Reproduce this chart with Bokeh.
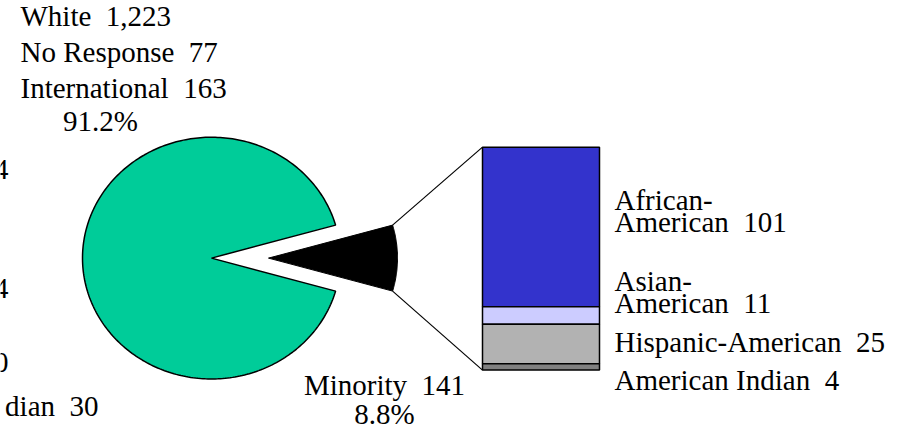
import numpy as np
from bokeh.plotting import figure
from bokeh.models import Range1d
from bokeh.embed import file_html
from bokeh.resources import INLINE
from bokeh.core.properties import value

# ---- data ----
NB = "\u00a0 "  # wide gap between name and number, as in the reference
pie_labels = ["White" + NB + "1,223", "No Response" + NB + "77", "International" + NB + "163"]
majority_pct = 91.2
minority_total = 141
minority_pct = 8.8
bar_categories = ["African-American", "Asian-American", "Hispanic-American", "American Indian"]
bar_values = [101, 11, 25, 4]
bar_label_lines = [["African-", "American" + NB + "101"], ["Asian-", "American" + NB + "11"],
                   ["Hispanic-American" + NB + "25"], ["American Indian" + NB + "4"]]
bar_colors = ["#3333CC", "#CCCCFF", "#B2B2B2", "#808080"]
left_fragments = ["4", "4", "0", "dian" + NB + "30"]

FONT = value("Liberation Serif")
FS = "29px"

p = figure(width=889, height=432, output_backend="svg", toolbar_location=None,
           x_range=Range1d(0, 889), y_range=Range1d(438, 2), min_border=0)
p.axis.visible = False
p.grid.visible = False
p.outline_line_color = None

# ---- pie ----
cx, cy, rx, ry = 211, 262, 129, 122
explode = 57
half = np.deg2rad(minority_pct / 100 * 360 / 2)

t = np.linspace(half, 2 * np.pi - half, 300)
gx = np.concatenate([[cx], cx + rx * np.cos(t), [cx]])
gy = np.concatenate([[cy], cy - ry * np.sin(t), [cy]])
p.patch(gx, gy, fill_color="#00CC99", line_color="black", line_width=1.5)

bcx = cx + explode
t2 = np.linspace(-half, half, 60)
bx = np.concatenate([[bcx], bcx + rx * np.cos(t2), [bcx]])
by = np.concatenate([[cy], cy - ry * np.sin(t2), [cy]])
p.patch(bx, by, fill_color="black", line_color="black", line_width=1)

# ---- stacked bar ----
bar_left, bar_right, bar_top, bar_bottom = 482, 599, 150, 375
scale = (bar_bottom - bar_top) / sum(bar_values)
cum = np.concatenate([[0], np.cumsum(bar_values)])
tops = bar_top + cum[:-1] * scale
bottoms = bar_top + cum[1:] * scale
p.quad(left=[bar_left] * 4, right=[bar_right] * 4, top=list(tops), bottom=list(bottoms),
       fill_color=bar_colors, line_color="black", line_width=1.5)

tipx = bcx + rx * np.cos(half)
tipy_up = cy - ry * np.sin(half)
tipy_dn = cy + ry * np.sin(half)
p.segment(x0=[tipx, tipx], y0=[tipy_up, tipy_dn], x1=[bar_left, bar_left],
          y1=[bar_top, bar_bottom], line_color="black", line_width=1.2)

# ---- texts (y = visual centre of each line) ----
p.text(x=[20, 20, 20], y=[18, 54, 90], text=pie_labels, text_font=FONT,
       text_font_size=FS, text_color="black", text_baseline="middle")
p.text(x=[100], y=[124], text=[f"{majority_pct}%"], text_font=FONT, text_font_size=FS,
       text_align="center", text_baseline="middle")
p.text(x=[384, 384], y=[390, 419], text=["Minority" + NB + f"{minority_total}", f"{minority_pct}%"],
       text_font=FONT, text_font_size=FS, text_align="center", text_baseline="middle")

lx, ly, lt = [], [], []
centres = [[203, 226], [285, 307], [347], [385]]
for lines, cs in zip(bar_label_lines, centres):
    for s, c in zip(lines, cs):
        lx.append(614)
        ly.append(c)
        lt.append(s)
p.text(x=lx, y=ly, text=lt, text_font=FONT, text_font_size=FS, text_baseline="middle")

p.text(x=[8, 8, 8, 98], y=[173, 293, 367, 411], text=left_fragments, text_font=FONT,
       text_font_size=FS, text_align="right", text_baseline="middle")

open("out.html", "w").write(file_html(p, INLINE))
